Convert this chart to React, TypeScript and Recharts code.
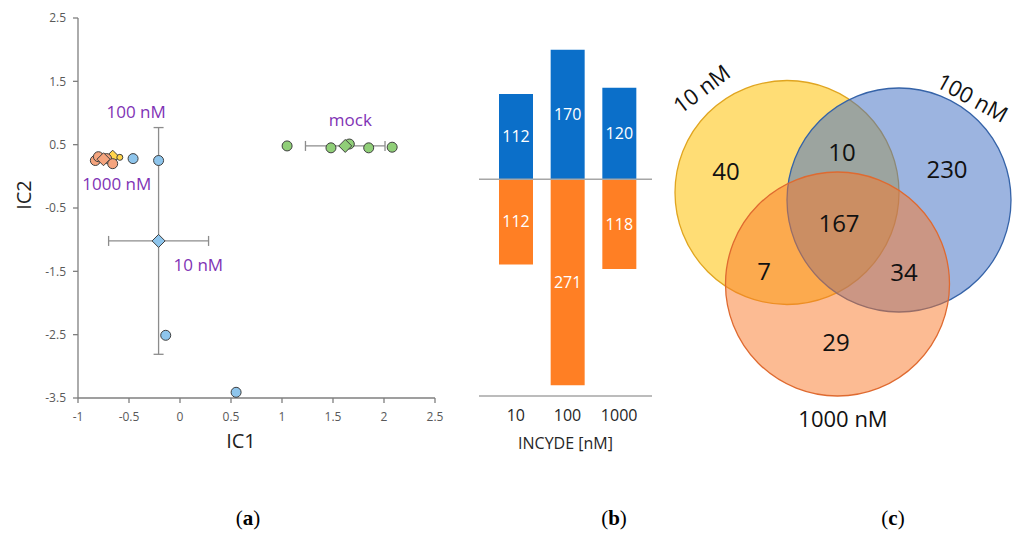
import {
  ScatterChart,
  Scatter,
  XAxis,
  YAxis,
  ErrorBar,
  BarChart,
  Bar,
  LabelList,
  ReferenceLine,
  Label,
} from 'recharts';

// panel (a): IC1/IC2 scores
const icTicksX = [-1, -0.5, 0, 0.5, 1, 1.5, 2, 2.5];
const icTicksY = [-3.5, -2.5, -1.5, -0.5, 0.5, 1.5, 2.5];

const mockReps = [
  { x: 1.05, y: 0.48 },
  { x: 1.48, y: 0.45 },
  { x: 1.66, y: 0.51 },
  { x: 1.85, y: 0.45 },
  { x: 2.08, y: 0.46 },
];
const mockMean = [{ x: 1.62, y: 0.48, ex: 0.39 }];

const nm10Reps = [
  { x: -0.46, y: 0.28 },
  { x: -0.21, y: 0.25 },
  { x: -0.14, y: -2.51 },
  { x: 0.55, y: -3.41 },
];
const nm10Mean = [{ x: -0.21, y: -1.02, ex: 0.49, ey: 1.79 }];

const nm1000Reps = [
  { x: -0.83, y: 0.25 },
  { x: -0.8, y: 0.31 },
  { x: -0.72, y: 0.28 },
  { x: -0.66, y: 0.2 },
];
const nm1000Mean = [{ x: -0.75, y: 0.27 }];

const nm100Reps = [{ x: -0.59, y: 0.3 }];
const nm100Mean = [{ x: -0.66, y: 0.31 }];

const groupLabels = [
  { x: -0.43, y: 1.02, text: '100 nM' },
  { x: -0.62, y: -0.12, text: '1000 nM' },
  { x: 0.18, y: -1.39, text: '10 nM' },
  { x: 1.67, y: 0.9, text: 'mock' },
];

// panel (b): up / down regulated counts
const doses = ['10', '100', '1000'];
const upCounts = [112, 170, 120];
const downCounts = [112, 271, 118];

// panel (c): venn diagram, coordinates in panel units
const vennSets = [
  { name: '10 nM', x: 127, y: 192.5 },
  { name: '100 nM', x: 239, y: 200 },
  { name: '1000 nM', x: 177.5, y: 284 },
];
const vennCounts = [
  { value: 40, x: 66, y: 170 },
  { value: 10, x: 182, y: 151 },
  { value: 230, x: 287, y: 168 },
  { value: 167, x: 179, y: 222 },
  { value: 7, x: 104, y: 270 },
  { value: 34, x: 244, y: 271 },
  { value: 29, x: 176, y: 341 },
];
const vennSetLabels = [
  { text: '10 nM', x: 41, y: 88 },
  { text: '100 nM', x: 313, y: 97 },
  { text: '1000 nM', x: 183, y: 418 },
];
const vennLabelAngles = [-37, 29, 0];

const VENN_R = 112;
const vennStyle: Record<string, { fill: string; stroke: string; opacity: number }> = {
  '10 nM': { fill: '#FFC000', stroke: '#E0A520', opacity: 0.54 },
  '100 nM': { fill: '#4472C4', stroke: '#3563A8', opacity: 0.53 },
  '1000 nM': { fill: '#FA7828', stroke: '#DF6A30', opacity: 0.5 },
};

const PURPLE = '#7F33B5';
const MARK_STROKE = '#3F3F3F';

const circle = (fill: string, r = 5) => (p: any) =>
  <circle cx={p.cx} cy={p.cy} r={r} fill={fill} stroke={MARK_STROKE} strokeWidth={1} />;

const diamond = (fill: string, h = 6.5) => (p: any) =>
  (
    <polygon
      points={`${p.cx},${p.cy - h} ${p.cx + h},${p.cy} ${p.cx},${p.cy + h} ${p.cx - h},${p.cy}`}
      fill={fill}
      stroke={MARK_STROKE}
      strokeWidth={1}
    />
  );

function PanelA() {
  const tick = { fill: '#595959', fontSize: 12 };
  const axis = { stroke: '#7F7F7F', strokeWidth: 1.3 };
  return (
    <ScatterChart width={460} height={460} margin={{ top: 18, right: 25, bottom: 0, left: 0 }}>
      <XAxis
        type="number"
        dataKey="x"
        domain={[-1, 2.5]}
        ticks={icTicksX}
        interval={0}
        tick={tick}
        tickSize={5}
        tickMargin={9}
        axisLine={axis}
        tickLine={axis}
        height={62}
        allowDataOverflow
      >
        <Label
          content={({ viewBox }: any) => (
            <text x={viewBox.x + 163} y={viewBox.y + 50} textAnchor="middle" fontSize={20} fill="#1F1F1F">
              IC1
            </text>
          )}
        />
      </XAxis>
      <YAxis
        type="number"
        dataKey="y"
        domain={[-3.5, 2.5]}
        ticks={icTicksY}
        interval={0}
        tick={tick}
        tickSize={5}
        tickMargin={7}
        axisLine={axis}
        tickLine={axis}
        width={78}
        allowDataOverflow
      >
        <Label
          content={({ viewBox }: any) => (
            <text
              x={23}
              y={viewBox.y + 177}
              transform={`rotate(-90 23 ${viewBox.y + 177})`}
              textAnchor="middle"
              dominantBaseline="central"
              fontSize={20}
              fill="#1F1F1F"
            >
              IC2
            </text>
          )}
        />
      </YAxis>
      <Scatter data={mockReps} shape={circle('#90CF78')} isAnimationActive={false} />
      <Scatter data={mockMean} shape={diamond('#90CF78')} isAnimationActive={false}>
        <ErrorBar dataKey="ex" direction="x" width={5} stroke="#8C8C8C" strokeWidth={1.3} />
      </Scatter>
      <Scatter data={nm10Mean} shape={diamond('#8EC5EC')} isAnimationActive={false}>
        <ErrorBar dataKey="ex" direction="x" width={5} stroke="#8C8C8C" strokeWidth={1.3} />
        <ErrorBar dataKey="ey" direction="y" width={5} stroke="#8C8C8C" strokeWidth={1.3} />
      </Scatter>
      <Scatter data={nm10Reps} shape={circle('#8EC5EC')} isAnimationActive={false} />
      <Scatter data={nm100Mean} shape={diamond('#FFD44A')} isAnimationActive={false} />
      <Scatter data={nm100Reps} shape={circle('#FFD44A', 3)} isAnimationActive={false} />
      <Scatter data={nm1000Reps} shape={circle('#F5A47E')} isAnimationActive={false} />
      <Scatter data={nm1000Mean} shape={diamond('#F5A47E')} isAnimationActive={false} />
      <Scatter
        data={groupLabels}
        isAnimationActive={false}
        shape={(p: any) => (
          <text x={p.cx} y={p.cy} textAnchor="middle" dominantBaseline="central" fontSize={17} fill={PURPLE}>
            {p.payload.text}
          </text>
        )}
      />
    </ScatterChart>
  );
}

function PanelB() {
  const data = doses.map((dose, i) => ({ dose, up: upCounts[i], down: -downCounts[i] }));
  return (
    <BarChart
      width={200}
      height={460}
      data={data}
      stackOffset="sign"
      margin={{ top: 27, right: 8, bottom: 0, left: 19 }}
    >
      <XAxis
        dataKey="dose"
        interval={0}
        axisLine={{ stroke: '#A6A6A6', strokeWidth: 1.5 }}
        tickLine={false}
        tickSize={0}
        tickMargin={14}
        height={64}
        padding={{ left: 11, right: 7 }}
        tick={{ fill: '#262626', fontSize: 16 }}
      >
        <Label value="INCYDE [nM]" position="insideBottom" offset={11} fill="#262626" fontSize={16} />
      </XAxis>
      <YAxis hide domain={[-285, 200]} allowDataOverflow />
      <Bar dataKey="up" stackId="s" fill="#0B6FC9" barSize={34} isAnimationActive={false}>
        <LabelList dataKey="up" position="center" fill="#FFFFFF" fontSize={16} />
      </Bar>
      <Bar dataKey="down" stackId="s" fill="#FF7F24" barSize={34} isAnimationActive={false}>
        <LabelList
          dataKey="down"
          position="center"
          fill="#FFFFFF"
          fontSize={16}
          formatter={(v: any) => Math.abs(Number(v))}
        />
      </Bar>
      <ReferenceLine y={0} stroke="#A6A6A6" strokeWidth={1.5} />
    </BarChart>
  );
}

function PanelC() {
  return (
    <ScatterChart width={359} height={460} margin={{ top: 0, right: 0, bottom: 0, left: 0 }}>
      <XAxis type="number" dataKey="x" domain={[0, 359]} hide allowDataOverflow />
      <YAxis type="number" dataKey="y" domain={[0, 460]} reversed hide allowDataOverflow />
      <Scatter
        data={vennSets}
        isAnimationActive={false}
        shape={(p: any) => {
          const s = vennStyle[p.payload.name];
          return (
            <circle
              cx={p.cx}
              cy={p.cy}
              r={VENN_R}
              fill={s.fill}
              fillOpacity={s.opacity}
              stroke={s.stroke}
              strokeWidth={1.3}
            />
          );
        }}
      />
      <Scatter
        data={vennCounts}
        isAnimationActive={false}
        shape={(p: any) => (
          <text x={p.cx} y={p.cy} textAnchor="middle" dominantBaseline="central" fontSize={24} fill="#111">
            {p.payload.value}
          </text>
        )}
      />
      <Scatter
        data={vennSetLabels}
        isAnimationActive={false}
        shape={(p: any) => {
          const a = vennLabelAngles[vennSetLabels.indexOf(p.payload)] ?? 0;
          return (
            <text
              x={p.cx}
              y={p.cy}
              textAnchor="middle"
              dominantBaseline="central"
              fontSize={22}
              fill="#111"
              transform={`rotate(${a} ${p.cx} ${p.cy})`}
            >
              {p.payload.text}
            </text>
          );
        }}
      />
    </ScatterChart>
  );
}

const captionStyle: React.CSSProperties = {
  position: 'absolute',
  top: 506,
  fontFamily: "'Liberation Serif', serif",
  fontSize: 21,
  color: '#000',
  transform: 'translateX(-50%)',
};

export default function App() {
  return (
    <div
      style={{
        position: 'absolute',
        left: 0,
        top: 0,
        width: 1019,
        height: 536,
        background: '#fff',
        fontFamily: "'Open Sans', sans-serif",
        overflow: 'hidden',
      }}
    >
      <div style={{ position: 'absolute', left: 0, top: 0 }}>
        <PanelA />
      </div>
      <div style={{ position: 'absolute', left: 460, top: 0 }}>
        <PanelB />
      </div>
      <div style={{ position: 'absolute', left: 660, top: 0 }}>
        <PanelC />
      </div>
      <span style={{ ...captionStyle, left: 248 }}>
        (<b>a</b>)
      </span>
      <span style={{ ...captionStyle, left: 614 }}>
        (<b>b</b>)
      </span>
      <span style={{ ...captionStyle, left: 893 }}>
        (<b>c</b>)
      </span>
    </div>
  );
}
